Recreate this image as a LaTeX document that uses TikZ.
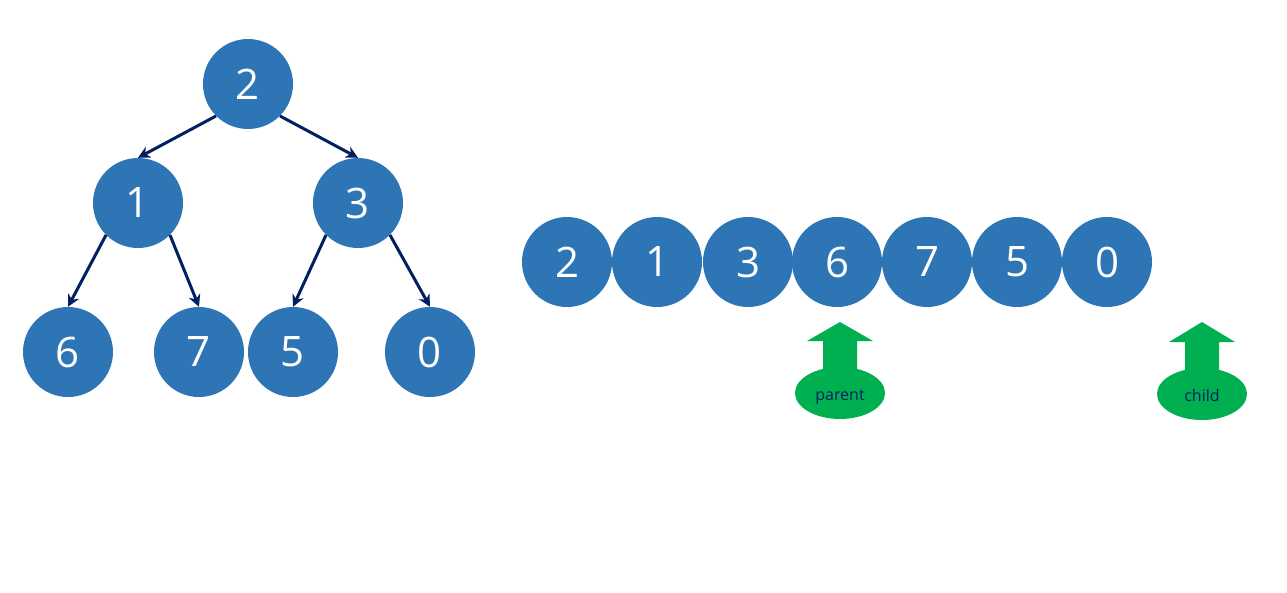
\documentclass[tikz,border=0pt]{standalone}
\usepackage{fontspec}
\setmainfont{Open Sans}
\usetikzlibrary{arrows.meta,shapes.geometric}
\definecolor{nodeblue}{HTML}{2E75B6}
\definecolor{edgenavy}{HTML}{002060}
\definecolor{markgreen}{HTML}{00B050}
\begin{document}
\begin{tikzpicture}[x=1pt,y=-1pt,
  num/.style={circle,fill=nodeblue,minimum size=90pt,inner sep=0pt,text=white,
    font=\fontsize{42}{42}\selectfont},
  edge/.style={draw=edgenavy,line width=3pt,-{Stealth[length=12pt,width=12pt]}},
  marker/.style={ellipse,fill=markgreen,minimum width=90pt,minimum height=52pt,
    inner sep=0pt,text=edgenavy,text height=15pt,text depth=0pt,
    font=\fontsize{16}{16}\selectfont},
  uparrow/.style={fill=markgreen}]
\useasboundingbox (0,0) rectangle (1287,592);
% tree
\node[num] (r) at (248,84) {2};
\node[num] (a) at (138,203) {1};
\node[num] (b) at (358,203) {3};
\node[num] (c) at (68,352) {6};
\node[num] (d) at (199,352) {7};
\node[num] (e) at (293,352) {5};
\node[num] (f) at (430,352) {0};
\draw[edge] (r.south west) -- (a.north);
\draw[edge] (r.south east) -- (b.north);
\draw[edge] (a.south west) -- (c.north);
\draw[edge] (a.south east) -- (d.north);
\draw[edge] (b.south west) -- (e.north);
\draw[edge] (b.south east) -- (f.north);
% array
\node[num] (k0) at (567,262) {2};
\node[num] (k1) at (657,262) {1};
\node[num] (k2) at (748,262) {3};
\node[num] (k3) at (837,262) {6};
\node[num] (k4) at (927,262) {7};
\node[num] (k5) at (1017,262) {5};
\node[num] (k6) at (1107,262) {0};
% markers
\fill[uparrow] (840,322) -- (873,341) -- (857,341) -- (857,380) -- (823,380) -- (823,341) -- (807,341) -- cycle;
\node[marker] (par) at (840,393) {parent};
\fill[uparrow] (1202,322) -- (1235,342) -- (1219,342) -- (1219,380) -- (1185,380) -- (1185,342) -- (1169,342) -- cycle;
\node[marker] (chi) at (1202,394) {child};
\end{tikzpicture}
\end{document}
